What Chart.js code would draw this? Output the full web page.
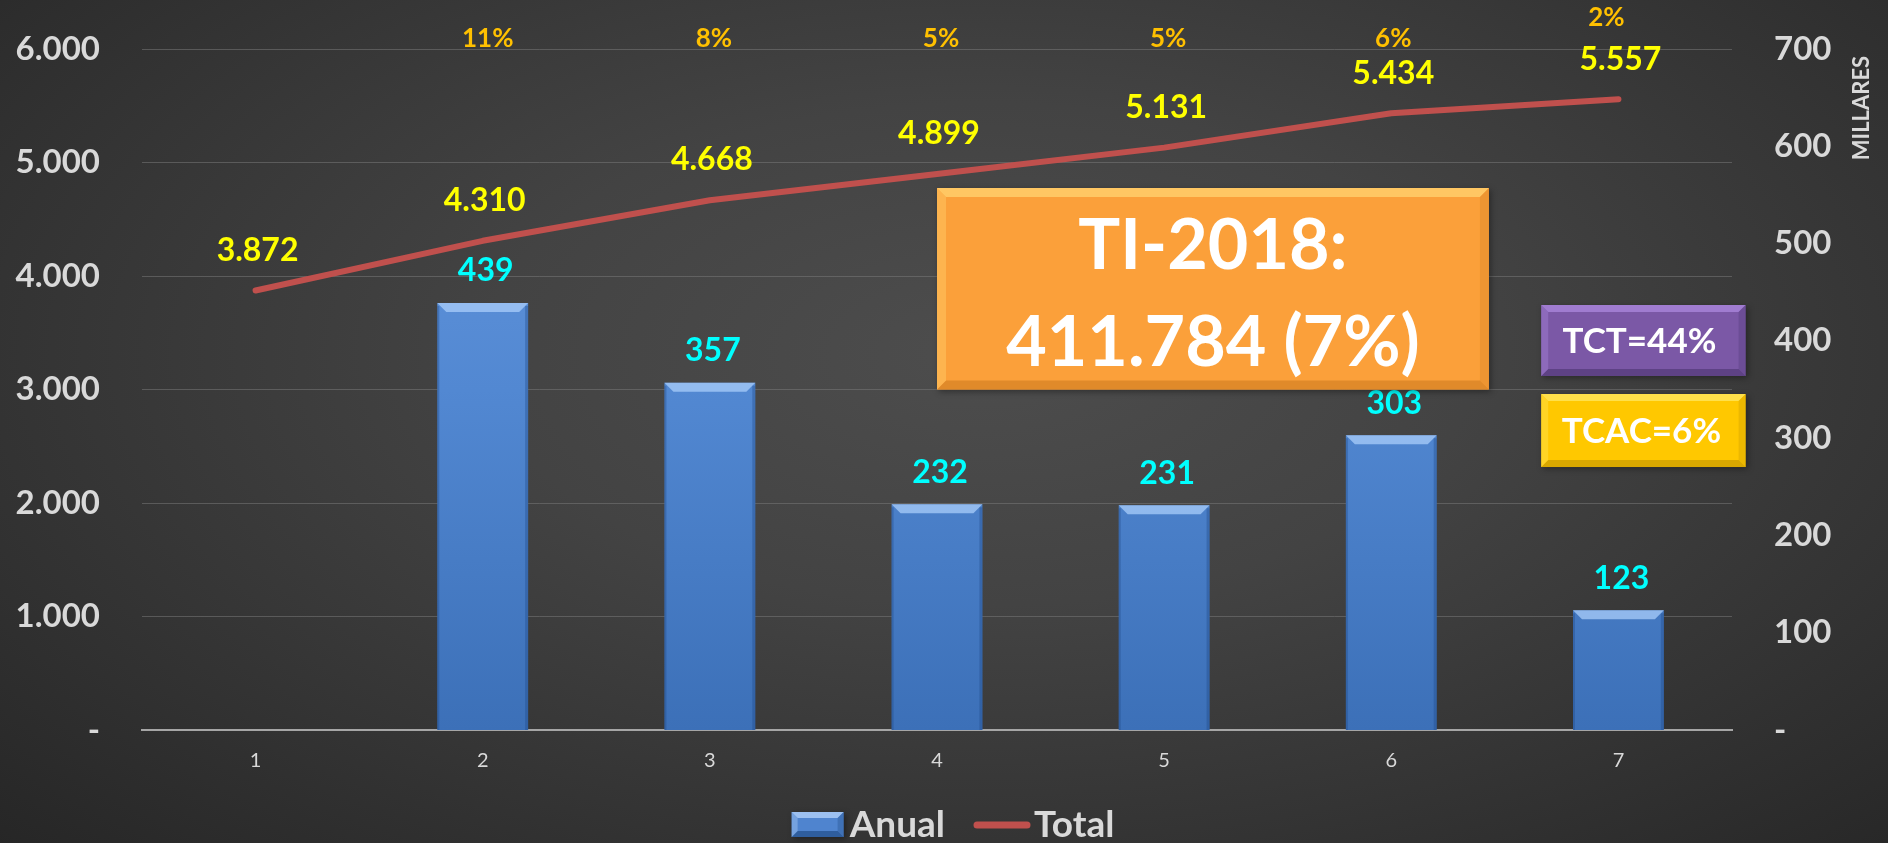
<!DOCTYPE html>
<html><head><meta charset="utf-8">
<script src="https://cdn.jsdelivr.net/npm/chart.js@4.4.1/dist/chart.umd.min.js"></script>
<style>
html,body{margin:0;padding:0;width:1888px;height:843px;overflow:hidden;background:#333;}
#wrap{position:relative;width:1888px;height:843px;background:radial-gradient(ellipse 75% 85% at 52% 42%, #4d4d4d 0%, #434343 35%, #333333 70%, #252525 100%);}
canvas{display:block;}
</style></head><body><div id="wrap"><canvas id="c" width="1888" height="843"></canvas></div>
<script>
// ---- data ----
const categories = ['1', '2', '3', '4', '5', '6', '7'];
const anual = [null, 439, 357, 232, 231, 303, 123];          // miles (right axis)
const total = [3872, 4310, 4668, 4899, 5131, 5434, 5557];     // left axis
const growthLabels = ['', '11%', '8%', '5%', '5%', '6%', '2%'];
const leftAxis = { min: 0, max: 6000, step: 1000 };
const rightAxis = { min: 0, max: 700, step: 100, title: 'MILLARES' };
const calloutMain = ['TI-2018:', '411.784 (7%)'];
const calloutTCT = 'TCT=44%';
const calloutTCAC = 'TCAC=6%';

const FONT = 'Lato, "Open Sans", "DejaVu Sans", sans-serif';
const TXT = '#D9D9D9';

function fmt(v) {
  if (v === 0) return '-';
  return String(v).replace(/\B(?=(\d{3})+(?!\d))/g, '.');
}

function bevelRect(ctx, x0, y0, x1, y1, body, light, dark, b) {
  ctx.save();
  ctx.shadowColor = 'rgba(0,0,0,0.35)';
  ctx.shadowBlur = 6; ctx.shadowOffsetX = 2; ctx.shadowOffsetY = 2;
  ctx.fillStyle = body;
  ctx.fillRect(x0, y0, x1 - x0, y1 - y0);
  ctx.restore();
  ctx.save();
  ctx.fillStyle = light;
  ctx.beginPath();
  ctx.moveTo(x0, y0); ctx.lineTo(x1, y0); ctx.lineTo(x1 - b, y0 + b); ctx.lineTo(x0 + b, y0 + b); ctx.closePath(); ctx.fill();
  ctx.fillStyle = dark;
  ctx.beginPath();
  ctx.moveTo(x0, y1); ctx.lineTo(x1, y1); ctx.lineTo(x1 - b, y1 - b); ctx.lineTo(x0 + b, y1 - b); ctx.closePath(); ctx.fill();
  ctx.globalAlpha = 0.5;
  ctx.beginPath();
  ctx.moveTo(x1, y0); ctx.lineTo(x1, y1); ctx.lineTo(x1 - b, y1 - b); ctx.lineTo(x1 - b, y0 + b); ctx.closePath(); ctx.fill();
  ctx.fillStyle = light;
  ctx.beginPath();
  ctx.moveTo(x0, y0); ctx.lineTo(x0, y1); ctx.lineTo(x0 + b, y1 - b); ctx.lineTo(x0 + b, y0 + b); ctx.closePath(); ctx.fill();
  ctx.restore();
}

const barStyle = {
  id: 'barStyle',
  afterDatasetsDraw(chart) {
    const ctx = chart.ctx;
    const meta = chart.getDatasetMeta(0);
    ctx.save();
    meta.data.forEach((el, i) => {
      if (anual[i] == null) return;
      const w = el.width, x0 = el.x - w / 2, x1 = el.x + w / 2, y0 = el.y, y1 = el.base;
      const b = 9;
      ctx.fillStyle = 'rgba(170,205,250,0.75)';
      ctx.beginPath();
      ctx.moveTo(x0, y0); ctx.lineTo(x1, y0); ctx.lineTo(x1 - b, y0 + b); ctx.lineTo(x0 + b, y0 + b); ctx.closePath(); ctx.fill();
      ctx.fillStyle = 'rgba(30,70,130,0.35)';
      ctx.fillRect(x1 - 3, y0 + 3, 3, y1 - y0 - 3);
      ctx.fillRect(x0, y0 + 3, 2, y1 - y0 - 3);
    });
    ctx.restore();
  }
};

const labelsPlugin = {
  id: 'labelsPlugin',
  afterDatasetsDraw(chart) {
    const ctx = chart.ctx;
    const xs = chart.scales.x;
    ctx.save();
    ctx.textAlign = 'center';
    ctx.textBaseline = 'middle';
    ctx.font = 'bold 32px ' + FONT;
    ctx.fillStyle = '#00FFFF';
    chart.getDatasetMeta(0).data.forEach((el, i) => {
      if (anual[i] == null) return;
      ctx.fillText(fmt(anual[i]), el.x + 3, el.y - 32);
    });
    ctx.fillStyle = '#FFFF00';
    chart.getDatasetMeta(1).data.forEach((el, i) => {
      ctx.fillText(fmt(total[i]), el.x + 2, el.y - 40);
    });
    ctx.font = 'bold 26px ' + FONT;
    ctx.fillStyle = '#FFC000';
    const top = chart.chartArea.top;
    const dxs = [0, 5, 4, 4, 4, 2, -12];
    growthLabels.forEach((t, i) => {
      if (!t) return;
      const dy = (i === growthLabels.length - 1) ? -31 : -10;
      ctx.fillText(t, xs.getPixelForValue(i) + dxs[i], top + dy);
    });
    ctx.restore();
  }
};

const calloutPlugin = {
  id: 'callouts',
  afterDraw(chart) {
    const ctx = chart.ctx;
    const xs = chart.scales.x, ys = chart.scales.y;
    let x0 = xs.getPixelForValue(3.0), x1 = xs.getPixelForValue(5.43);
    let y0 = ys.getPixelForValue(4775), y1 = ys.getPixelForValue(3000);
    bevelRect(ctx, x0, y0, x1, y1, '#FBA03A', '#FFC763', '#E08A2A', 9);
    ctx.save();
    ctx.fillStyle = '#FFFFFF';
    ctx.textAlign = 'center';
    ctx.textBaseline = 'middle';
    ctx.font = 'bold 70px ' + FONT;
    const cx = (x0 + x1) / 2;
    ctx.fillText(calloutMain[0], cx, y0 + 58);
    ctx.fillText(calloutMain[1], cx, y0 + 155);
    ctx.restore();
    x0 = xs.getPixelForValue(5.66); x1 = xs.getPixelForValue(6.56);
    y0 = ys.getPixelForValue(3744); y1 = ys.getPixelForValue(3119);
    bevelRect(ctx, x0, y0, x1, y1, '#7B58A6', '#A07CD0', '#5E4285', 7);
    ctx.save();
    ctx.fillStyle = '#FFFFFF';
    ctx.textAlign = 'center';
    ctx.textBaseline = 'middle';
    ctx.font = 'bold 35px ' + FONT;
    ctx.fillText(calloutTCT, (x0 + x1) / 2 - 4, (y0 + y1) / 2 + 1);
    ctx.restore();
    y0 = ys.getPixelForValue(2960); y1 = ys.getPixelForValue(2317);
    bevelRect(ctx, x0, y0, x1, y1, '#FFC800', '#FFE04A', '#D9A800', 7);
    ctx.save();
    ctx.fillStyle = '#FFFFFF';
    ctx.textAlign = 'center';
    ctx.textBaseline = 'middle';
    ctx.font = 'bold 35px ' + FONT;
    ctx.fillText(calloutTCAC, (x0 + x1) / 2 - 2, (y0 + y1) / 2 + 1);
    ctx.restore();

    ctx.save();
    ctx.fillStyle = TXT;
    ctx.font = 'bold 22px ' + FONT;
    ctx.textAlign = 'center';
    ctx.textBaseline = 'middle';
    ctx.translate(chart.scales.y2.right - 26, ys.getPixelForValue(5480));
    ctx.rotate(-Math.PI / 2);
    ctx.fillText(rightAxis.title, 0, 0);
    ctx.restore();

    ctx.save();
    ctx.font = 'bold 37px ' + FONT;
    ctx.textBaseline = 'alphabetic';
    const ds = chart.data.datasets;
    const wA = ctx.measureText(ds[0].label).width;
    const wT = ctx.measureText(ds[1].label).width;
    const groupW = 52 + 6 + wA + 29 + 56 + 4 + wT;
    let lx = (xs.left + xs.right) / 2 + 16 - groupW / 2;
    const base = 837;
    bevelRect(ctx, lx, 812, lx + 52, 837, '#4F84CF', '#9CC0F0', '#2F5E9E', 6);
    lx += 52 + 6;
    ctx.fillStyle = TXT;
    ctx.fillText(ds[0].label, lx, base);
    lx += wA + 29;
    ctx.strokeStyle = ds[1].borderColor;
    ctx.lineWidth = 7;
    ctx.lineCap = 'round';
    ctx.beginPath(); ctx.moveTo(lx + 3, 825); ctx.lineTo(lx + 53, 825); ctx.stroke();
    lx += 56 + 4;
    ctx.fillText(ds[1].label, lx, base);
    ctx.restore();
  }
};

const ctx = document.getElementById('c').getContext('2d');

function barGradient(c) {
  const ch = c.chart;
  const area = ch.chartArea;
  if (!area) return '#4F81BD';
  const g = ch.ctx.createLinearGradient(0, area.top, 0, area.bottom);
  g.addColorStop(0, '#6A9BE0');
  g.addColorStop(0.5, '#5288D2');
  g.addColorStop(1, '#3C70B8');
  return g;
}

function fitY(w) {
  return function (s) { s.width = w; s.paddingTop = 0; s.paddingBottom = 0; };
}

new Chart(ctx, {
  data: {
    labels: categories,
    datasets: [
      { type: 'bar', label: 'Anual', data: anual, yAxisID: 'y2', backgroundColor: barGradient,
        borderWidth: 0, barPercentage: 0.4, categoryPercentage: 1, order: 2 },
      { type: 'line', label: 'Total', data: total, yAxisID: 'y', borderColor: '#C0504D',
        borderWidth: 6, pointRadius: 0, tension: 0, borderCapStyle: 'round', borderJoinStyle: 'round', order: 1 }
    ]
  },
  options: {
    responsive: false,
    animation: false,
    devicePixelRatio: 1,
    layout: { padding: { left: 0, right: 0, top: 49, bottom: 0 } },
    scales: {
      x: {
        grid: { drawOnChartArea: false, drawTicks: false },
        border: { display: true, color: '#A6A6A6', width: 2 },
        ticks: { color: TXT, font: { family: FONT, size: 20 }, padding: 19 },
        afterFit(s) { s.height = 113; s.paddingLeft = 0; s.paddingRight = 0; }
      },
      y: {
        position: 'left', min: leftAxis.min, max: leftAxis.max,
        ticks: { stepSize: leftAxis.step, callback: fmt, color: TXT, font: { family: FONT, size: 33, weight: 'bold' }, padding: 42 },
        grid: { color: 'rgba(120,120,120,0.55)', lineWidth: 1, drawTicks: false },
        border: { display: false },
        afterFit: fitY(142)
      },
      y2: {
        position: 'right', min: rightAxis.min, max: rightAxis.max,
        ticks: { stepSize: rightAxis.step, callback: fmt, color: TXT, font: { family: FONT, size: 33, weight: 'bold' }, padding: 42 },
        grid: { display: false, drawTicks: false },
        border: { display: false },
        afterFit: fitY(1888 - 1732)
      }
    },
    plugins: {
      legend: { display: false },
      tooltip: { enabled: false }
    }
  },
  plugins: [barStyle, labelsPlugin, calloutPlugin]
});
</script>
</body></html>
